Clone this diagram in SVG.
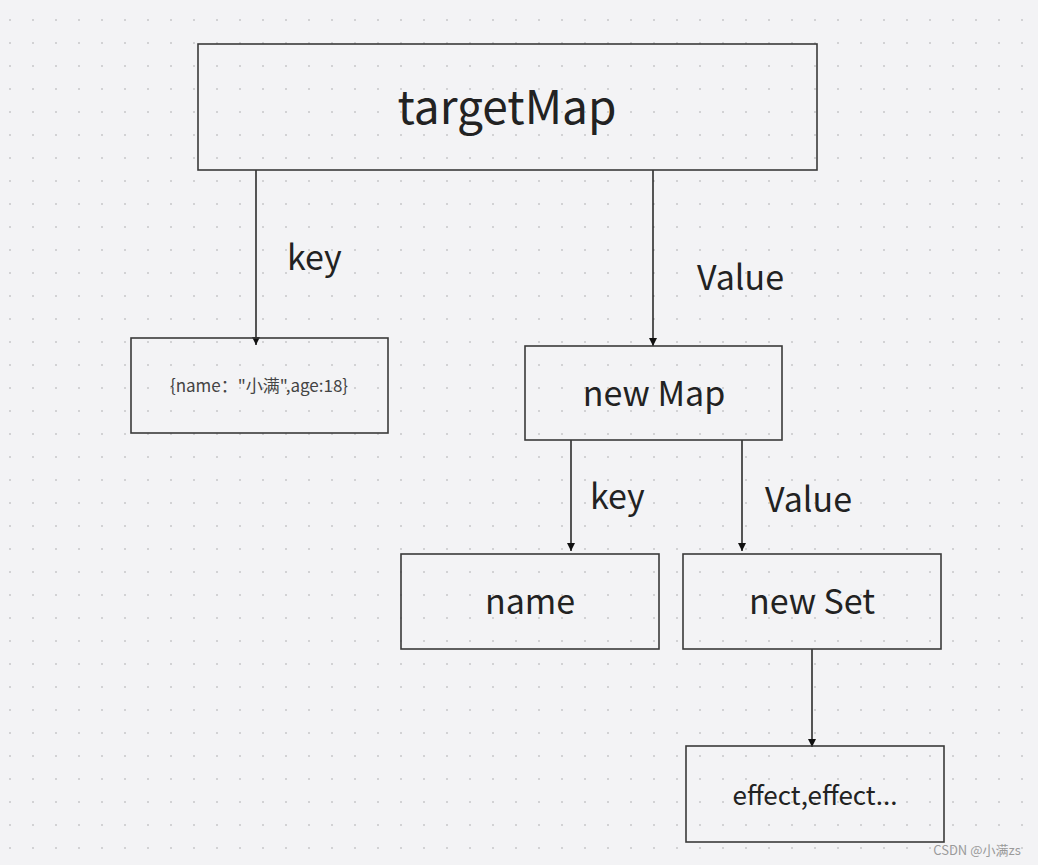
<svg xmlns="http://www.w3.org/2000/svg" width="1038" height="865" viewBox="0 0 1038 865">
<defs>
<pattern id="dots" x="9" y="19" width="23" height="23" patternUnits="userSpaceOnUse">
<rect x="0" y="0" width="2" height="2" fill="#d2d2d4"/>
</pattern>
<marker id="ah" viewBox="0 0 10 10" refX="10" refY="5" markerWidth="8" markerHeight="9" orient="auto" markerUnits="userSpaceOnUse">
<path d="M0,0 L10,5 L0,10 Z" fill="#111"/>
</marker>
<style>
.box{fill:none;stroke:#3a3a3a;stroke-width:1.6}
.t{font-family:"Noto Sans CJK SC","Noto Sans",sans-serif;fill:#222;text-anchor:middle;dominant-baseline:central}
.lbl{font-family:"Noto Sans CJK SC","Noto Sans",sans-serif;fill:#222;font-size:34px}
.ln{stroke:#111;stroke-width:1.4;fill:none}
</style>
</defs>
<rect width="1038" height="865" fill="#f3f3f5"/>
<rect width="1038" height="865" fill="url(#dots)"/>
<g id="connectors">
<line class="ln" x1="256" y1="170" x2="256" y2="345" marker-end="url(#ah)"/>
<line class="ln" x1="653" y1="170" x2="653" y2="346" marker-end="url(#ah)"/>
<line class="ln" x1="571" y1="440" x2="571" y2="551" marker-end="url(#ah)"/>
<line class="ln" x1="742" y1="440" x2="742" y2="551" marker-end="url(#ah)"/>
<line class="ln" x1="812" y1="649" x2="812" y2="747" marker-end="url(#ah)"/>
<text class="lbl" x="287" y="270">key</text>
<text class="lbl" x="697" y="290">Value</text>
<text class="lbl" x="590" y="509">key</text>
<text class="lbl" x="765" y="512">Value</text>
</g>
<g id="targetMap">
<rect class="box" x="198" y="44" width="619" height="126"/>
<text class="t" x="507" y="104" font-size="46">targetMap</text>
</g>
<g id="keyObj">
<rect class="box" x="131" y="338" width="257" height="95"/>
<text class="t" x="259" y="384" font-size="17" style="fill:#444">{name："小满",age:18}</text>
</g>
<g id="newMap">
<rect class="box" x="525" y="346" width="257" height="94"/>
<text class="t" x="654" y="391" font-size="34">new Map</text>
</g>
<g id="name">
<rect class="box" x="401" y="554" width="258" height="95"/>
<text class="t" x="530" y="599" font-size="34">name</text>
</g>
<g id="newSet">
<rect class="box" x="683" y="554" width="258" height="95"/>
<text class="t" x="812" y="599" font-size="34">new Set</text>
</g>
<g id="effects">
<rect class="box" x="686" y="746" width="258" height="96"/>
<text class="t" x="815" y="793" font-size="26">effect,effect...</text>
</g>
<text x="977" y="849" font-family="Noto Sans CJK SC,Liberation Sans,sans-serif" font-size="13" fill="#9a9a9a" text-anchor="middle" dominant-baseline="central">CSDN @小满zs</text>
</svg>
